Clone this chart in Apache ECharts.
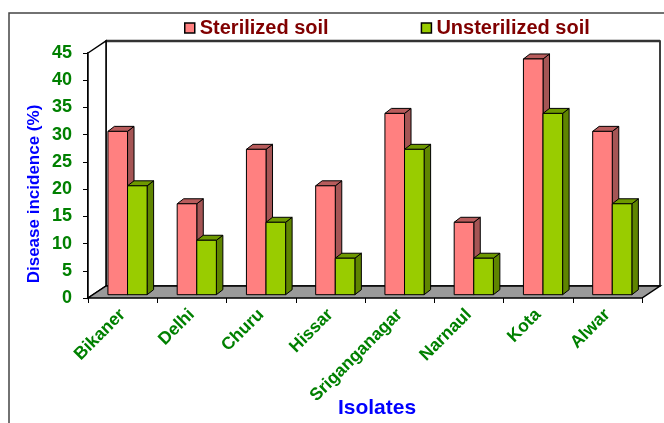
<!DOCTYPE html>
<html>
<head>
<meta charset="utf-8">
<script src="https://cdn.jsdelivr.net/npm/echarts@6/dist/echarts.min.js"></script>
<style>
  html, body { margin: 0; padding: 0; background: #fff; }
  #chart { width: 664px; height: 423px; }
</style>
</head>
<body>
<div id="chart"></div>
<script>
// data
var isolates = ['Bikaner', 'Delhi', 'Churu', 'Hissar', 'Sriganganagar', 'Narnaul', 'Kota', 'Alwar'];
var sterilized = [30, 16.7, 26.7, 20, 33.3, 13.3, 43.3, 30];
var unsterilized = [20, 10, 13.3, 6.7, 26.7, 6.7, 33.3, 16.7];
var yTicks = [0, 5, 10, 15, 20, 25, 30, 35, 40, 45];

var FONT = '"Liberation Sans", Arial, sans-serif';
var WALL = { x: 18, y: -12 };     // depth of the 3d box
var BAR_OFF = { x: 4.9, y: -3.3 }; // front face of the bars inside the box
var BAR_D = { x: 6.5, y: -5 };     // depth of a bar

var dom = document.getElementById('chart');
var myChart = echarts.init(dom);

function toPairs(arr) {
    return arr.map(function (v, i) { return [i, v]; });
}

// floor + walls, drawn from the grid rect
function renderFrame(params, api) {
    var cs = params.coordSys;
    var x = cs.x, y = cs.y, w = cs.width, h = cs.height;
    return {
        type: 'group',
        children: [
            { type: 'rect', shape: { x: x + WALL.x, y: y + WALL.y, width: w, height: h },
              style: { fill: '#fff', stroke: '#000', lineWidth: 1.5 } },
            { type: 'line', shape: { x1: x + WALL.x, y1: y + WALL.y, x2: x + WALL.x + w, y2: y + WALL.y },
              style: { stroke: '#333', lineWidth: 2.5 } },
            { type: 'polygon', shape: { points: [[x, y], [x + WALL.x, y + WALL.y], [x + WALL.x, y + h + WALL.y], [x, y + h]] },
              style: { fill: '#fff', stroke: '#000', lineWidth: 1.5 } },
            { type: 'polygon', shape: { points: [[x, y + h], [x + w, y + h], [x + w + WALL.x, y + h + WALL.y], [x + WALL.x, y + h + WALL.y]] },
              style: { fill: '#9a9a9a', stroke: '#000', lineWidth: 1.5 } }
        ]
    };
}

function barRenderer(left, front, side, top) {
    return function (params, api) {
        var i = api.value(0), v = api.value(1);
        var c0 = api.coord([i, 0]);
        var c1 = api.coord([i, v]);
        var band = api.size([1, 0])[0];
        var w = band * 0.283;
        var x0 = c0[0] + BAR_OFF.x + (left ? -w : 0);
        var yb = c0[1] + BAR_OFF.y;
        var yt = c1[1] + BAR_OFF.y;
        var dx = BAR_D.x, dy = BAR_D.y;
        var edge = { stroke: '#000', lineWidth: 1 };
        return {
            type: 'group',
            children: [
                { type: 'polygon', shape: { points: [[x0 + w, yt], [x0 + w + dx, yt + dy], [x0 + w + dx, yb + dy], [x0 + w, yb]] },
                  style: Object.assign({ fill: side }, edge) },
                { type: 'polygon', shape: { points: [[x0, yt], [x0 + dx, yt + dy], [x0 + w + dx, yt + dy], [x0 + w, yt]] },
                  style: Object.assign({ fill: top }, edge) },
                { type: 'rect', shape: { x: x0, y: yt, width: w, height: yb - yt },
                  style: Object.assign({ fill: front }, edge) }
            ]
        };
    };
}

myChart.setOption({
    animation: false,
    backgroundColor: '#fff',
    legend: {
        data: ['Sterilized soil', 'Unsterilized soil'],
        left: 179,
        top: 13,
        itemWidth: 10,
        itemHeight: 10,
        itemGap: 92,
        icon: 'rect',
        itemStyle: { borderColor: '#000', borderWidth: 1.5 },
        textStyle: { color: '#800000', fontWeight: 'bold', fontSize: 20, fontFamily: FONT }
    },
    grid: { left: 88, right: 22, top: 53, bottom: 125 },
    xAxis: {
        type: 'category',
        data: isolates,
        axisLine: { show: false },
        axisTick: { show: true, length: 5, interval: 0, lineStyle: { color: '#000', width: 1 } },
        axisLabel: {
            interval: 0,
            rotate: 45,
            margin: 14,
            color: '#008000',
            fontWeight: 'bold',
            fontSize: 17.5,
            fontFamily: FONT
        }
    },
    yAxis: {
        type: 'value',
        min: yTicks[0],
        max: yTicks[yTicks.length - 1],
        interval: 5,
        splitLine: { show: false },
        axisLine: { show: true, lineStyle: { color: '#000', width: 2 } },
        axisTick: { show: true, length: 5, lineStyle: { color: '#000', width: 1 } },
        axisLabel: {
            margin: 16,
            color: '#008000',
            fontWeight: 'bold',
            fontSize: 18,
            fontFamily: FONT
        }
    },
    graphic: [
        { type: 'rect', shape: { x: 9, y: 13, width: 700, height: 500 },
          style: { fill: null, stroke: '#444', lineWidth: 1.5 }, z: -10 },
        { type: 'text', x: 34, y: 194, rotation: Math.PI / 2,
          style: { text: 'Disease incidence (%)', fill: '#0000ff', font: 'bold 17px ' + FONT,
                   textAlign: 'center', textVerticalAlign: 'middle' } },
        { type: 'text', x: 377, y: 408,
          style: { text: 'Isolates', fill: '#0000ff', font: 'bold 21px ' + FONT,
                   textAlign: 'center', textVerticalAlign: 'middle' } }
    ],
    series: [
        {
            name: 'frame',
            type: 'custom',
            renderItem: renderFrame,
            data: [[0, 0]],
            z: 1,
            silent: true
        },
        {
            name: 'Sterilized soil',
            type: 'custom',
            itemStyle: { color: '#ff8080' },
            renderItem: barRenderer(true, '#ff8080', '#a55555', '#b85c5c'),
            encode: { x: 0, y: 1 },
            data: toPairs(sterilized),
            z: 3
        },
        {
            name: 'Unsterilized soil',
            type: 'custom',
            itemStyle: { color: '#99cc00' },
            renderItem: barRenderer(false, '#99cc00', '#5f8500', '#6e9900'),
            encode: { x: 0, y: 1 },
            data: toPairs(unsterilized),
            z: 4
        }
    ]
});
window.addEventListener('resize', function () {
    myChart.resize();
});
</script>
</body>
</html>
